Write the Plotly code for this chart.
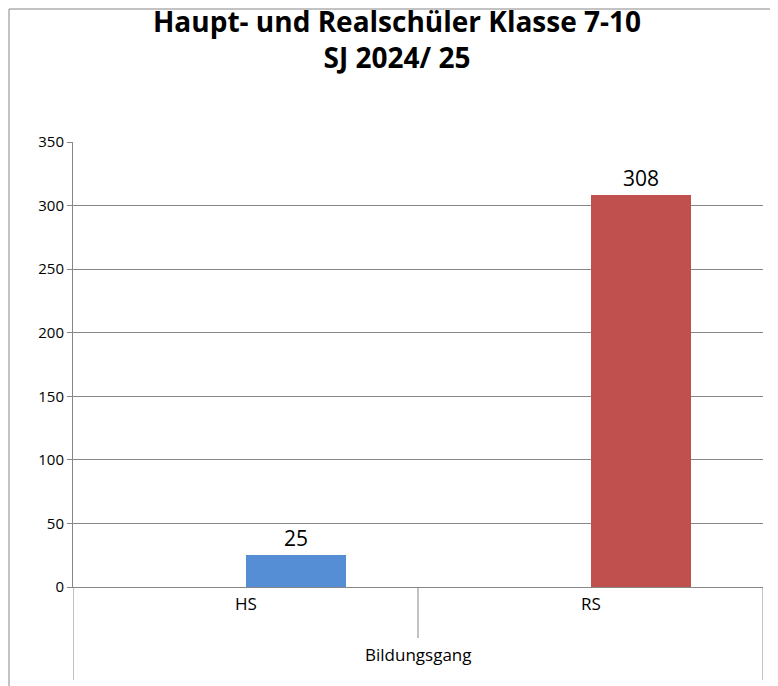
import plotly.graph_objects as go

categories = ["HS", "RS"]
values = [25, 308]
colors = ["#558ED5", "#C0504D"]
y_ticks = [0, 50, 100, 150, 200, 250, 300, 350]

# category centres on a numeric axis so the bars can sit right of centre like Excel
cat_pos = [0.5, 1.5]
bar_pos = [p + 0.145 for p in cat_pos]

fig = go.Figure()
fig.add_trace(go.Bar(
    x=bar_pos, y=values, width=0.29,
    marker=dict(color=colors, line=dict(width=0)),
    text=[str(v) for v in values], textposition="outside",
    textfont=dict(size=21, color="#000000"), cliponaxis=False,
))

line_col = "#868686"
shapes = [
    # chart border
    dict(type="rect", xref="paper", yref="paper",
         x0=-64 / 690, x1=1 + 22 / 690, y0=-106 / 445, y1=1 + 133 / 445,
         line=dict(color=line_col, width=1)),
    # category axis separators
    dict(type="line", xref="x", yref="paper", x0=0, x1=0, y0=0, y1=-93 / 445,
         line=dict(color=line_col, width=1)),
    dict(type="line", xref="x", yref="paper", x0=1, x1=1, y0=0, y1=-51 / 445,
         line=dict(color=line_col, width=1)),
    dict(type="line", xref="x", yref="paper", x0=2, x1=2, y0=0, y1=-93 / 445,
         line=dict(color=line_col, width=1)),
]

annotations = [
    dict(x=p, y=-30 / 445, xref="x", yref="paper", text=c, showarrow=False,
         font=dict(size=17, color="#000000"))
    for p, c in zip(cat_pos, categories)
]
annotations.append(dict(x=1, y=-81 / 445, xref="x", yref="paper", text="Bildungsgang",
                        showarrow=False, font=dict(size=17, color="#000000")))

fig.update_layout(
    width=778, height=686,
    margin=dict(l=65, r=23, t=134, b=107, autoexpand=False),
    paper_bgcolor="white", plot_bgcolor="white",
    font=dict(family="Open Sans, sans-serif", color="#000000"),
    title=dict(text="<b>Haupt- und Realschüler Klasse 7-10<br>SJ 2024/ 25</b>",
               x=0.5, xanchor="center", y=0.965, yanchor="top",
               font=dict(size=28, color="#000000")),
    showlegend=False,
    bargap=0,
    xaxis=dict(range=[0, 2], showticklabels=False, showgrid=False, zeroline=False,
               showline=True, linecolor=line_col, ticks="", automargin=False),
    yaxis=dict(range=[0, 350], tickvals=y_ticks, showgrid=True, gridcolor=line_col,
               zeroline=False, showline=True, linecolor=line_col, ticks="outside",
               ticklen=5, tickcolor=line_col, tickfont=dict(size=15), automargin=False),
    shapes=shapes, annotations=annotations,
)

fig.write_html("out.html")
